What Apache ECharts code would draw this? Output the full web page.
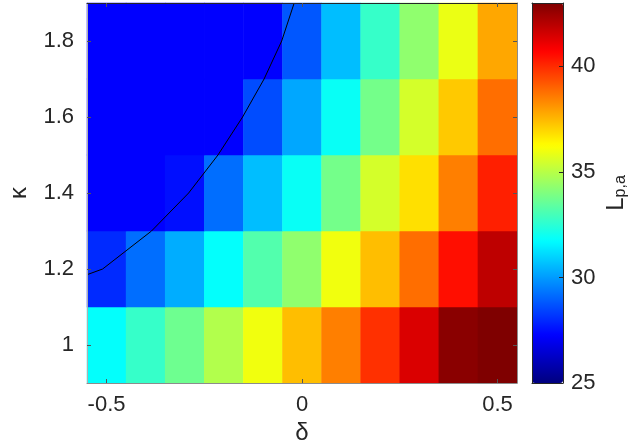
<!DOCTYPE html>
<html>
<head>
<meta charset="utf-8">
<script src="https://cdn.jsdelivr.net/npm/echarts@6/dist/echarts.min.js"></script>
<style>
html,body{margin:0;padding:0;background:#fff;}
#chart{width:632px;height:445px;}
</style>
</head>
<body>
<div id="chart"></div>
<script>
// ---- data ----
const deltaValues = [-0.5, -0.4, -0.3, -0.2, -0.1, 0, 0.1, 0.2, 0.3, 0.4, 0.5];
const kappaValues = [1.0, 1.2, 1.4, 1.6, 1.8];
// L_{p,a} for each kappa row (columns follow deltaValues)
const L_k10 = [31.8, 32.7, 33.7, 34.9, 36.0, 37.4, 38.5, 39.9, 41.4, 42.8, 43.0];
const L_k12 = [28.0, 29.2, 30.3, 31.8, 33.2, 34.3, 36.0, 37.4, 38.8, 40.5, 41.9];
const L_k14 = [27.25, 27.25, 27.5, 29.2, 30.6, 31.9, 33.8, 35.5, 36.8, 38.5, 40.2];
const L_k16 = [27.25, 27.25, 27.25, 27.25, 28.6, 30.2, 31.9, 33.8, 35.5, 37.2, 38.8];
const L_k18 = [27.25, 27.25, 27.25, 27.25, 27.25, 28.8, 30.6, 32.7, 34.3, 35.9, 37.8];
// contour line
const contourDelta = [-0.55, -0.51, -0.385, -0.29, -0.215, -0.152, -0.097, -0.052, -0.02];
const contourKappa = [1.185, 1.2, 1.3, 1.4, 1.5, 1.6, 1.7, 1.8, 1.9];
// ticks
const xTicks = [-0.5, 0, 0.5];
const yTicks = [1, 1.2, 1.4, 1.6, 1.8];
const cbTicks = [25, 30, 35, 40];
const cbMin = 25, cbMax = 43;

// ---- build ----
const rows = [L_k10, L_k12, L_k14, L_k16, L_k18];
const heatData = [];
rows.forEach((row, yi) => row.forEach((v, xi) => heatData.push([xi, yi, v])));
const lineData = contourDelta.map((d, i) => [d, contourKappa[i]]);

const jet = ['#00007f', '#0000ff', '#007fff', '#00ffff', '#7fff7f', '#ffff00', '#ff7f00', '#ff0000', '#7f0000'];
const FONT = '"Liberation Sans", Arial, Helvetica, sans-serif';
const TXT = '#262626';

const P = {left: 87, top: 3, width: 430, height: 380};
const CB = {left: 532, top: 3, width: 31, height: 380};

const chart = echarts.init(document.getElementById('chart'), null, {renderer: 'canvas'});

const lineAx = (color, show) => ({show: show, onZero: false, lineStyle: {color: color, width: 1}});
const gridOf = (r) => ({left: r.left, top: r.top, width: r.width, height: r.height,
  containLabel: false, outerBoundsMode: 'none'});

chart.setOption({
  animation: false,
  backgroundColor: '#fff',
  textStyle: {fontFamily: FONT},
  grid: [gridOf(P), gridOf(P), gridOf(CB)],
  xAxis: [
    {type: 'category', gridIndex: 0, data: deltaValues.map(String), show: false},
    {type: 'value', gridIndex: 1, position: 'bottom', min: -0.55, max: 0.55, z: 10,
      name: 'δ', nameLocation: 'middle', nameGap: 36,
      nameTextStyle: {fontSize: 24, color: TXT, fontFamily: FONT},
      axisLine: lineAx('#8c8c8c', true),
      axisTick: {show: true, inside: true, length: 4, lineStyle: {color: '#555'}, customValues: xTicks},
      axisLabel: {show: true, fontSize: 22, color: TXT, fontFamily: FONT, margin: 11, customValues: xTicks},
      splitLine: {show: false}},
    {type: 'value', gridIndex: 1, position: 'top', min: -0.55, max: 0.55, z: 10,
      axisLine: lineAx('#262626', true),
      axisTick: {show: true, inside: true, length: 4, lineStyle: {color: '#555'}, customValues: xTicks},
      axisLabel: {show: false}, splitLine: {show: false}},
    {type: 'value', gridIndex: 2, position: 'bottom', min: 0, max: 1, z: 10,
      axisLine: lineAx('#262626', true), axisTick: {show: false}, axisLabel: {show: false}, splitLine: {show: false}},
    {type: 'value', gridIndex: 2, position: 'top', min: 0, max: 1, z: 10,
      axisLine: lineAx('#262626', true), axisTick: {show: false}, axisLabel: {show: false}, splitLine: {show: false}}
  ],
  yAxis: [
    {type: 'category', gridIndex: 0, data: kappaValues.map(String), show: false},
    {type: 'value', gridIndex: 1, position: 'left', min: 0.9, max: 1.9, z: 10,
      name: 'κ', nameLocation: 'middle', nameGap: 56, nameRotate: 90,
      nameTextStyle: {fontSize: 24, color: TXT, fontFamily: FONT},
      axisLine: lineAx('#b0b0b0', true),
      axisTick: {show: true, inside: true, length: 4, lineStyle: {color: '#555'}, customValues: yTicks},
      axisLabel: {show: true, fontSize: 22, color: TXT, fontFamily: FONT, margin: 13, customValues: yTicks},
      splitLine: {show: false}},
    {type: 'value', gridIndex: 1, position: 'right', min: 0.9, max: 1.9, z: 10,
      axisLine: lineAx('#8c8c8c', true),
      axisTick: {show: true, inside: true, length: 4, lineStyle: {color: '#555'}, customValues: yTicks},
      axisLabel: {show: false}, splitLine: {show: false}},
    {type: 'value', gridIndex: 2, position: 'left', min: cbMin, max: cbMax, z: 10,
      axisLine: lineAx('#262626', true), axisTick: {show: false}, axisLabel: {show: false}, splitLine: {show: false}},
    {type: 'value', gridIndex: 2, position: 'right', min: cbMin, max: cbMax, z: 10,
      name: '{m|L}{s|p,a}', nameLocation: 'middle', nameGap: 40, nameRotate: 90,
      nameTextStyle: {color: TXT, fontFamily: FONT,
        rich: {
          m: {fontSize: 24, color: TXT, fontFamily: FONT},
          s: {fontSize: 16, color: TXT, fontFamily: FONT, verticalAlign: 'bottom', padding: [10, 0, 0, 0]}
        }},
      axisLine: lineAx('#262626', true),
      axisTick: {show: true, inside: true, length: 4, lineStyle: {color: '#262626'}, customValues: cbTicks.slice(1)},
      axisLabel: {show: true, fontSize: 22, color: TXT, fontFamily: FONT, margin: 8, customValues: cbTicks},
      splitLine: {show: false}}
  ],
  visualMap: {
    type: 'continuous', seriesIndex: 0, min: cbMin, max: cbMax,
    orient: 'vertical', left: CB.left, top: CB.top, itemWidth: CB.width, itemHeight: CB.height,
    padding: 0, calculable: false, hoverLink: false, text: null, showLabel: false,
    inRange: {color: jet}
  },
  series: [
    {type: 'heatmap', xAxisIndex: 0, yAxisIndex: 0, data: heatData, z: 2,
      emphasis: {disabled: true}, itemStyle: {borderWidth: 0}},
    {type: 'line', xAxisIndex: 1, yAxisIndex: 1, data: lineData, z: 5,
      showSymbol: false, symbol: 'none', lineStyle: {color: '#000', width: 1}, silent: true}
  ]
});
</script>
</body>
</html>
